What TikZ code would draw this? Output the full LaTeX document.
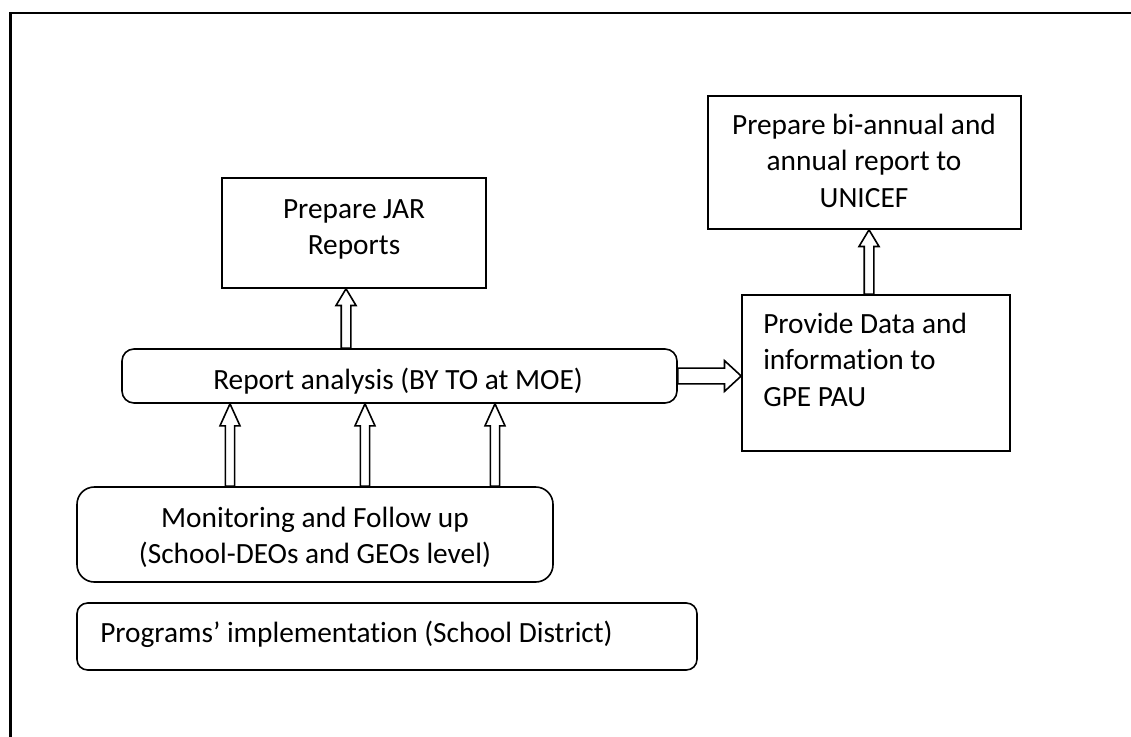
\documentclass[tikz,border=0pt]{standalone}
\usepackage{fontspec}
\setmainfont{Carlito}[Ligatures={NoCommon}]
\usetikzlibrary{calc,fit}

% hollow block arrow: shaft half-width, head half-width, head length, from, to
\newcommand\blockarrow[5]{%
  \coordinate (bah) at ($(#5)!#3!(#4)$);
  \draw[arrowline] ($(#4)!#1!90:(#5)$) -- ($(bah)!#1!90:(#5)$)
    -- ($(bah)!#2!90:(#5)$) -- (#5) -- ($(bah)!#2!-90:(#5)$)
    -- ($(bah)!#1!-90:(#5)$) -- ($(#4)!#1!-90:(#5)$) -- cycle;}

\newcommand\linesc[1]{\begin{tabular}[t]{@{}c@{}}#1\end{tabular}}
\newcommand\linesl[1]{\begin{tabular}[t]{@{}l@{}}#1\end{tabular}}

\begin{document}
\begin{tikzpicture}[x=0.75pt, y=-0.75pt,
  box/.style={draw, line width=1.2pt, inner sep=0pt},
  rbox/.style={box, rounded corners=#1},
  txt/.style={inner sep=0pt, anchor=base, font=\fontsize{22}{27.4}\selectfont},
  arrowline/.style={draw, line width=1.2pt, line join=miter}]
\useasboundingbox (0,0) rectangle (1131,736);

% outer frame (only top and left edges fall inside the page)
\draw[line width=1.7pt] (10.5,745) -- (10.5,13) -- (1140,13);

% boxes
\node[box, fit={(222,178) (486,288)}] (jar) {};
\node[box, fit={(708,96) (1021,229)}] (uni) {};
\node[box, fit={(742,295) (1010,451)}] (gpe) {};
\node[rbox=9pt, fit={(122,349) (677,403)}] (rep) {};
\node[rbox=13pt, fit={(77,487) (553,582)}] (mon) {};
\node[rbox=8pt, fit={(77,603) (697,670)}] (prog) {};

% texts
\node[txt] (jart) at (354,218) {\linesc{Prepare JAR\\Reports}};
\node[txt] (unit) at (864,134) {\linesc{Prepare bi-annual and\\annual report to\\UNICEF}};
\node[txt, anchor=base west] (gpet) at (763,333) {\linesl{Provide Data and\\information to\\GPE PAU}};
\node[txt, anchor=base west] (rept) at (213,389) {Report analysis (BY TO at MOE)};
\node[txt] (mont) at (315,527) {\linesc{Monitoring and Follow up\\(School-DEOs and GEOs level)}};
\node[txt, anchor=base west] (progt) at (100,642) {Programs’ implementation (School District)};

% arrow columns
\coordinate (c0) at (346,0);
\coordinate (c1) at (230,0);
\coordinate (c2) at (365,0);
\coordinate (c3) at (495,0);
\coordinate (c4) at (869,0);

% connectors
\blockarrow{3.6pt}{7.5pt}{12.5pt}{rep.north -| c0}{jar.south -| c0}
\blockarrow{3.5pt}{7.5pt}{16.5pt}{mon.north -| c1}{rep.south -| c1}
\blockarrow{3.5pt}{7.5pt}{16.5pt}{mon.north -| c2}{rep.south -| c2}
\blockarrow{3.5pt}{7.5pt}{16.5pt}{mon.north -| c3}{rep.south -| c3}
\blockarrow{5.9pt}{11.5pt}{12.5pt}{rep.east}{gpe.west |- rep.east}
\blockarrow{3.6pt}{7.5pt}{12.5pt}{gpe.north -| c4}{uni.south -| c4}
\end{tikzpicture}
\end{document}
